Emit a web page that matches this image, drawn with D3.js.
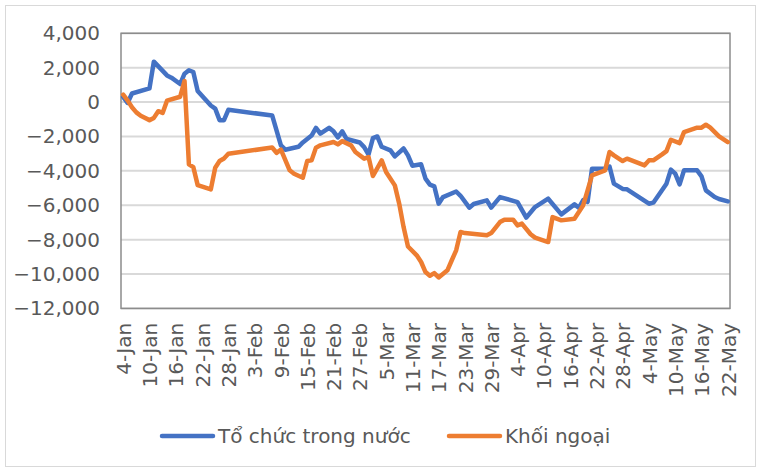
<!DOCTYPE html>
<html>
<head>
<meta charset="utf-8">
<script src="https://cdn.jsdelivr.net/npm/d3@7"></script>
<style>
  html, body { margin: 0; padding: 0; background: #ffffff; }
  svg { display: block; }
  text { font-family: "DejaVu Sans", Verdana, sans-serif; fill: #595959; }
</style>
</head>
<body>
<svg id="chart" width="761" height="472"></svg>
<script>
// ---- data (year 2022, trading-day vertices) ----
const YEAR = "2022";
const seriesNames = ["Tổ chức trong nước", "Khối ngoại"];
const seriesColors = ["#4472C4", "#ED7D31"];

const domesticDates = ["01-04","01-05","01-06","01-10","01-11","01-14","01-15","01-17","01-18","01-19","01-20","01-21","01-24","01-25","01-26","01-27","01-28",
  "02-07","02-09","02-10","02-13","02-14","02-15","02-16","02-17","02-18","02-20","02-21","02-22","02-23","02-24","02-27","02-28",
  "03-01","03-02","03-03","03-04","03-06","03-07","03-09","03-10","03-11","03-13","03-14","03-15","03-16","03-17","03-18","03-21","03-22","03-24","03-25","03-28","03-29","03-31",
  "04-04","04-06","04-08","04-11","04-14","04-17","04-18","04-19","04-20","04-21","04-24","04-25","04-26","04-28","04-29",
  "05-04","05-05","05-08","05-09","05-10","05-11","05-12","05-15","05-16","05-17","05-19","05-20","05-22"];
const domesticValues = [300,-50,500,800,2350,1550,1420,1050,1650,1850,1750,650,-200,-380,-1050,-1050,-450,
  -780,-2520,-2770,-2600,-2350,-2150,-1950,-1500,-1840,-1500,-1700,-2050,-1700,-2150,-2350,-2620,
  -3050,-2100,-2000,-2600,-2810,-3160,-2700,-3100,-3700,-3620,-4455,-4800,-4900,-5910,-5525,-5200,-5450,-6140,-5930,-5715,-6140,-5525,
  -5815,-6720,-6105,-5620,-6530,-5950,-6150,-5700,-5800,-3875,-3875,-3750,-4745,-5050,-5075,
  -5910,-5850,-4745,-3930,-4165,-4785,-3970,-3970,-4320,-5135,-5525,-5640,-5775];

const foreignDates = ["01-04","01-05","01-06","01-07","01-08","01-10","01-11","01-12","01-13","01-14","01-17","01-18","01-19","01-20","01-21","01-24","01-25","01-26","01-27","01-28",
  "02-07","02-08","02-09","02-11","02-12","02-14","02-15","02-16","02-17","02-18","02-21","02-22","02-23","02-25","02-26","02-28",
  "03-01","03-02","03-04","03-05","03-07","03-08","03-09","03-10","03-12","03-13","03-14","03-15","03-16","03-17","03-19","03-20","03-21","03-22","03-23","03-28","03-29","03-31",
  "04-01","04-03","04-04","04-05","04-07","04-08","04-11","04-12","04-14","04-17","04-18","04-19","04-20","04-21","04-24","04-25","04-26","04-28","04-29",
  "05-03","05-04","05-05","05-07","05-08","05-09","05-11","05-12","05-15","05-16","05-17","05-18","05-20","05-22"];
const foreignValues = [430,100,-300,-600,-800,-1050,-920,-530,-630,80,310,1230,-3620,-3780,-4830,-5080,-3820,-3430,-3280,-3010,
  -2640,-2950,-2770,-3970,-4165,-4400,-3430,-3390,-2650,-2517,-2325,-2460,-2270,-2517,-2905,-3290,
  -3200,-4300,-3390,-4070,-4845,-5910,-7270,-8400,-8915,-9300,-9885,-10100,-9950,-10200,-9785,-9200,-8620,-7560,-7620,-7750,-7620,-6980,
  -6840,-6840,-7170,-7070,-7690,-7885,-8140,-6690,-6880,-6780,-6400,-6000,-5135,-4260,-3970,-2905,-3100,-3430,-3290,
  -3680,-3390,-3390,-3040,-2850,-2190,-2385,-1745,-1490,-1490,-1315,-1490,-1990,-2325];

const xTickLabels = ["4-Jan","10-Jan","16-Jan","22-Jan","28-Jan","3-Feb","9-Feb","15-Feb","21-Feb","27-Feb","5-Mar","11-Mar","17-Mar","23-Mar","29-Mar","4-Apr","10-Apr","16-Apr","22-Apr","28-Apr","4-May","10-May","16-May","22-May"];
const yTickValues = [-12000,-10000,-8000,-6000,-4000,-2000,0,2000,4000];

// ---- layout ----
const svg = d3.select("#chart");
const plot = { left: 121, right: 730, top: 33.3, bottom: 308.4 };

const parseMD = d3.timeParse("%Y-%m-%d");
const parseTick = d3.timeParse("%Y-%d-%b");
const toDate = s => parseMD(YEAR + "-" + s);
const tickDates = xTickLabels.map(t => parseTick(YEAR + "-" + t));

const firstDay = tickDates[0], lastDay = tickDates[tickDates.length - 1];
const x = d3.scaleTime()
  .domain([d3.timeHour.offset(firstDay, -12), d3.timeHour.offset(lastDay, 12)])
  .range([plot.left, plot.right]);
const y = d3.scaleLinear().domain([-12000, 4000]).range([plot.bottom, plot.top]);

// outer chart border
svg.append("rect").attr("x", 5.5).attr("y", 5.5).attr("width", 750).attr("height", 461)
  .attr("fill", "none").attr("stroke", "#d9d9d9").attr("stroke-width", 1);

// gridlines
svg.append("g").selectAll("line").data(yTickValues).join("line")
  .attr("x1", plot.left).attr("x2", plot.right)
  .attr("y1", d => y(d)).attr("y2", d => y(d))
  .attr("stroke", "#d9d9d9").attr("stroke-width", 2);

// plot border
svg.append("rect").attr("x", plot.left).attr("y", plot.top)
  .attr("width", plot.right - plot.left).attr("height", plot.bottom - plot.top)
  .attr("fill", "none").attr("stroke", "#8c8c8c").attr("stroke-width", 1.5);

// y axis
const yAxis = svg.append("g").attr("transform", `translate(${plot.left},0)`)
  .call(d3.axisLeft(y).tickValues(yTickValues).tickFormat(d3.format(",")).tickSize(0).tickPadding(21));
yAxis.select(".domain").remove();
yAxis.selectAll("text").style("font-family", "'DejaVu Sans', sans-serif").style("font-size", "20px").attr("fill", "#595959");

// x axis
const xAxis = svg.append("g").attr("transform", `translate(0,${plot.bottom})`)
  .call(d3.axisBottom(x).tickValues(tickDates).tickFormat(d3.timeFormat("%-d-%b")).tickSize(0));
xAxis.select(".domain").remove();
xAxis.selectAll("text")
  .style("font-family", "'DejaVu Sans', sans-serif").style("font-size", "20px").attr("fill", "#595959")
  .attr("text-anchor", "end")
  .attr("transform", "rotate(-90)")
  .attr("x", -14.5).attr("y", 0).attr("dy", "0.36em");

// lines
const series = [
  { name: seriesNames[0], color: seriesColors[0], pts: domesticDates.map((d, i) => [toDate(d), domesticValues[i]]) },
  { name: seriesNames[1], color: seriesColors[1], pts: foreignDates.map((d, i) => [toDate(d), foreignValues[i]]) }
];
const line = d3.line().x(d => x(d[0])).y(d => y(d[1]));
svg.append("g").selectAll("path").data(series).join("path")
  .attr("d", d => line(d.pts))
  .attr("fill", "none").attr("stroke", d => d.color).attr("stroke-width", 4.5)
  .attr("stroke-linejoin", "round").attr("stroke-linecap", "round");

// legend
const legendItems = [{ x: 162, name: seriesNames[0], color: seriesColors[0] },
                     { x: 449, name: seriesNames[1], color: seriesColors[1] }];
const lg = svg.append("g").selectAll("g").data(legendItems).join("g")
  .attr("transform", d => `translate(${d.x},436)`);
lg.append("line").attr("x1", 0).attr("x2", 51).attr("y1", 0).attr("y2", 0)
  .attr("stroke", d => d.color).attr("stroke-width", 4.5).attr("stroke-linecap", "round");
lg.append("text").attr("x", 56).attr("y", 0).attr("dy", "0.36em")
  .style("font-size", "20px").text(d => d.name);
</script>
</body>
</html>
